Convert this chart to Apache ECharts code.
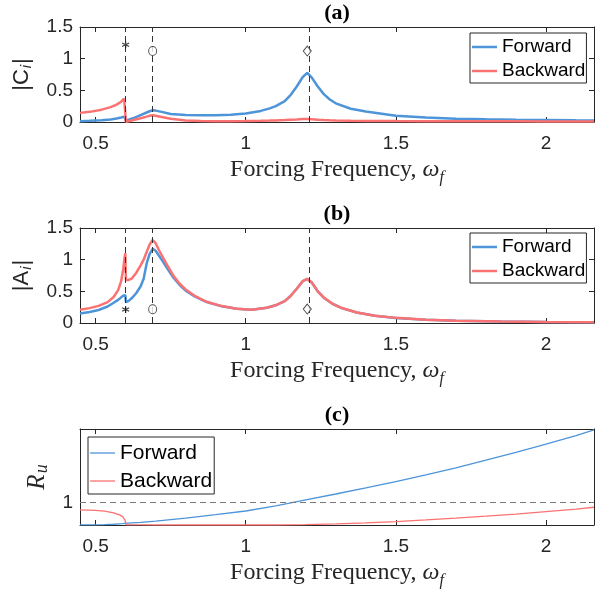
<!DOCTYPE html>
<html><head><meta charset="utf-8">
<script src="https://cdn.jsdelivr.net/npm/echarts@6.0.0/dist/echarts.min.js"></script>
<style>html,body{margin:0;padding:0;background:#fff}#c{width:595px;height:598px}</style>
</head><body><div id="c"></div><script>
// ---------- data ----------
const freqA = [0.448,0.48,0.52,0.55,0.57,0.585,0.595,0.599,0.601,0.61,0.63,0.65,0.67,0.68,0.69,0.70,0.72,0.75,0.8,0.85,0.9,0.95,1.0,1.05,1.08,1.1,1.13,1.15,1.17,1.19,1.205,1.22,1.24,1.26,1.28,1.3,1.35,1.4,1.5,1.6,1.7,1.8,1.9,2.0,2.1,2.16];
const cForward = [0.012,0.018,0.028,0.04,0.055,0.07,0.085,0.093,0.02,0.035,0.07,0.11,0.15,0.17,0.185,0.18,0.16,0.125,0.11,0.105,0.105,0.113,0.135,0.175,0.215,0.25,0.33,0.43,0.56,0.71,0.775,0.7,0.56,0.44,0.355,0.295,0.21,0.165,0.1,0.07,0.053,0.043,0.036,0.031,0.027,0.025];
const cBackward = [0.144,0.16,0.195,0.235,0.275,0.32,0.37,0.35,0.004,0.012,0.035,0.06,0.085,0.098,0.108,0.1,0.08,0.05,0.025,0.015,0.012,0.012,0.014,0.018,0.022,0.025,0.03,0.035,0.04,0.046,0.048,0.045,0.037,0.031,0.027,0.024,0.02,0.017,0.014,0.012,0.011,0.01,0.01,0.009,0.009,0.009];

const freqB = [0.448,0.48,0.51,0.54,0.56,0.575,0.585,0.592,0.597,0.599,0.601,0.61,0.62,0.635,0.65,0.66,0.67,0.68,0.69,0.70,0.71,0.72,0.74,0.76,0.78,0.8,0.83,0.87,0.92,0.97,1.02,1.07,1.1,1.13,1.15,1.17,1.19,1.205,1.22,1.24,1.26,1.29,1.32,1.37,1.43,1.5,1.6,1.7,1.85,2.0,2.16];
const aForward = [0.15,0.175,0.205,0.26,0.32,0.365,0.405,0.43,0.455,0.44,0.33,0.35,0.39,0.47,0.58,0.7,0.94,1.09,1.17,1.14,1.07,1.0,0.85,0.71,0.6,0.51,0.42,0.33,0.265,0.225,0.21,0.24,0.28,0.345,0.43,0.54,0.66,0.695,0.64,0.5,0.4,0.3,0.235,0.165,0.115,0.08,0.05,0.035,0.022,0.015,0.01];
const aBackward = [0.21,0.235,0.27,0.33,0.41,0.52,0.66,0.85,1.05,1.1,0.68,0.68,0.7,0.79,0.91,1.0,1.12,1.24,1.31,1.26,1.16,1.07,0.9,0.74,0.62,0.53,0.43,0.335,0.267,0.226,0.211,0.241,0.281,0.346,0.431,0.541,0.661,0.696,0.641,0.501,0.401,0.301,0.236,0.166,0.116,0.081,0.051,0.036,0.023,0.016,0.011];

const freqC = [0.448,0.5,0.53,0.56,0.58,0.59,0.595,0.598,0.6,0.601,0.62,0.65,0.7,0.8,0.9,1.0,1.1,1.2,1.3,1.4,1.5,1.6,1.7,1.8,1.9,2.0,2.1,2.16];
const rForward = [0.851,0.851,0.852,0.855,0.858,0.859,0.86,0.861,0.861,0.861,0.864,0.868,0.876,0.896,0.919,0.944,0.979,1.018,1.058,1.099,1.141,1.186,1.234,1.285,1.338,1.393,1.45,1.488];
const rBackward = [0.951,0.948,0.943,0.932,0.918,0.906,0.895,0.882,0.865,0.851,0.851,0.851,0.85,0.85,0.85,0.85,0.85,0.852,0.857,0.864,0.873,0.884,0.896,0.909,0.923,0.94,0.957,0.969];

const resonanceFreqs = [0.6, 0.69, 1.205];
const markerKinds = ['*', 'o', 'diamond'];
const markerYA = [1.22, 1.12, 1.12];
const markerYB = [0.213, 0.218, 0.22];
const xTicks = [0.5, 1, 1.5, 2];
const yTicksC = [1];
const panelTitles = ['(a)', '(b)', '(c)'];
const seriesNames = ['Forward', 'Backward'];

// ---------- styling ----------
const SANS = "'Liberation Sans', Arial, Helvetica, sans-serif";
const SERIF = "'Liberation Serif', 'Times New Roman', serif";
const AX = '#262626';
const BLUE = '#4e94d8';
const RED = '#fb7272';
const X_MIN = 0.448, X_MAX = 2.16;

const zip = (xs, ys) => xs.map((x, i) => [x, ys[i]]);

const grids = [
  {left: 80, right: 1, top: 25, height: 97},
  {left: 80, right: 1, top: 228, height: 95},
  {left: 80, right: 1, top: 429, height: 96}
];

const xName = '{t|Forcing Frequency, }{w|ω}{f|f}';
const xNameStyle = {
  color: AX,
  rich: {
    t: {fontFamily: SERIF, fontSize: 24, lineHeight: 26, color: AX},
    w: {fontFamily: SERIF, fontSize: 24, lineHeight: 26, fontStyle: 'italic', color: AX},
    f: {fontFamily: SERIF, fontSize: 16, lineHeight: 18, fontStyle: 'italic', color: AX, padding: [16, 0, 0, 0]}
  }
};

const xAxes = [];
const yAxes = [];
for (let i = 0; i < 3; i++) {
  xAxes.push({
    type: 'value', gridIndex: i, min: X_MIN, max: X_MAX, position: 'bottom',
    axisLine: {show: true, onZero: false, lineStyle: {color: AX, width: 1}},
    axisTick: {show: true, inside: true, length: 5, customValues: xTicks, lineStyle: {color: AX}},
    axisLabel: {show: true, customValues: xTicks, margin: 12, color: AX, fontFamily: SANS, fontSize: 19, formatter: v => String(v)},
    splitLine: {show: false},
    name: xName, nameLocation: 'middle', nameGap: 33, nameTextStyle: xNameStyle
  });
  xAxes.push({
    type: 'value', gridIndex: i, min: X_MIN, max: X_MAX, position: 'top',
    axisLine: {show: true, onZero: false, lineStyle: {color: AX, width: 1}},
    axisTick: {show: true, inside: true, length: 5, customValues: xTicks, lineStyle: {color: AX}},
    axisLabel: {show: false},
    splitLine: {show: false},
    name: panelTitles[i], nameLocation: 'middle', nameGap: 2,
    nameTextStyle: {fontFamily: SERIF, fontWeight: 'bold', fontSize: 22, lineHeight: 24, color: '#000'}
  });
}
const yNames = [
  '{t||C}{s|i}{t||}',
  '{t||A}{s|i}{t||}',
  '{r|R}{u|u}'
];
const yNameRich = {
  t: {fontFamily: SANS, fontSize: 22, lineHeight: 24, color: AX},
  s: {fontFamily: SANS, fontSize: 15, lineHeight: 16, fontStyle: 'italic', color: AX, padding: [9, 1, 0, 1]},
  r: {fontFamily: SERIF, fontSize: 25, lineHeight: 26, fontStyle: 'italic', color: AX},
  u: {fontFamily: SERIF, fontSize: 18, lineHeight: 18, fontStyle: 'italic', color: AX, padding: [10, 0, 0, 1]}
};
for (let i = 0; i < 3; i++) {
  const isC = i === 2;
  const common = isC ? {min: 0.85, max: 1.494} : {min: 0, max: 1.5, interval: 0.5};
  yAxes.push(Object.assign({
    type: 'value', gridIndex: i, position: 'left',
    axisLine: {show: true, onZero: false, lineStyle: {color: AX, width: 1}},
    axisTick: Object.assign({show: true, inside: true, length: 5, lineStyle: {color: AX}}, isC ? {customValues: yTicksC} : {}),
    axisLabel: Object.assign({show: true, margin: 7, color: AX, fontFamily: SANS, fontSize: 19, formatter: v => String(v)}, isC ? {customValues: yTicksC} : {}),
    splitLine: {show: false},
    name: yNames[i], nameLocation: 'middle', nameGap: isC ? 21 : 46,
    nameTextStyle: {rich: yNameRich}
  }, common));
  yAxes.push(Object.assign({
    type: 'value', gridIndex: i, position: 'right',
    axisLine: {show: true, onZero: false, lineStyle: {color: AX, width: 1}},
    axisTick: Object.assign({show: true, inside: true, length: 5, lineStyle: {color: AX}}, isC ? {customValues: yTicksC} : {}),
    axisLabel: {show: false},
    splitLine: {show: false}
  }, common));
}

const vLines = {
  silent: true, symbol: ['none', 'none'], label: {show: false},
  lineStyle: {color: '#333', type: [6, 4], width: 1},
  data: resonanceFreqs.map(x => ({xAxis: x}))
};

const asteriskPath = 'path://M5,0L5,10M0.67,2.5L9.33,7.5M0.67,7.5L9.33,2.5';
function markerData(ys) {
  return resonanceFreqs.map((x, k) => {
    const kind = markerKinds[k];
    if (kind === '*') return {value: [x, ys[k]], symbol: asteriskPath, symbolSize: 7,
      itemStyle: {color: 'rgba(0,0,0,0)', borderColor: '#111', borderWidth: 1.3}};
    if (kind === 'o') return {value: [x, ys[k]], symbol: 'circle', symbolSize: [8, 9],
      itemStyle: {color: '#fff', borderColor: '#222', borderWidth: 1}};
    return {value: [x, ys[k]], symbol: 'diamond', symbolSize: [8, 10],
      itemStyle: {color: '#fff', borderColor: '#222', borderWidth: 1}};
  });
}

function lineSeries(name, gi, xs, ys, color, width, extra) {
  return Object.assign({
    type: 'line', name: name, xAxisIndex: gi * 2, yAxisIndex: gi * 2,
    data: zip(xs, ys), showSymbol: false, symbol: 'none', smooth: false,
    lineStyle: {color: color, width: width}, itemStyle: {color: color},
    animation: false
  }, extra || {});
}

const series = [
  lineSeries(seriesNames[0], 0, freqA, cForward, BLUE, 2.5, {markLine: vLines, z: 2}),
  lineSeries(seriesNames[1], 0, freqA, cBackward, RED, 2.5, {z: 3}),
  {type: 'scatter', xAxisIndex: 0, yAxisIndex: 0, data: markerData(markerYA), z: 6, animation: false, silent: true},
  lineSeries(seriesNames[0], 1, freqB, aForward, BLUE, 2.5, {markLine: vLines, z: 2}),
  lineSeries(seriesNames[1], 1, freqB, aBackward, RED, 2.5, {z: 3}),
  {type: 'scatter', xAxisIndex: 2, yAxisIndex: 2, data: markerData(markerYB), z: 6, animation: false, silent: true},
  lineSeries(seriesNames[0], 2, freqC, rForward, BLUE, 1.3, {
    z: 2,
    markLine: {silent: true, symbol: ['none', 'none'], label: {show: false},
      lineStyle: {color: '#7a7a7a', type: [6, 4], width: 1}, data: [{yAxis: 1}]}
  }),
  lineSeries(seriesNames[1], 2, freqC, rBackward, RED, 1.3, {z: 3})
];

function legendAt(left, top, fs, lh, gap, lw, pad) {
  return {
    data: seriesNames.map(n => ({name: n, icon: 'rect'})),
    orient: 'vertical', left: left, top: top,
    itemWidth: 25, itemHeight: lw, itemGap: gap, padding: pad,
    backgroundColor: '#fff', borderColor: AX, borderWidth: 1, borderRadius: 0,
    textStyle: {fontFamily: SANS, fontSize: fs, lineHeight: lh, height: lh, color: '#000'},
    selectedMode: false
  };
}

const option = {
  backgroundColor: '#fff',
  animation: false,
  grid: grids,
  xAxis: xAxes,
  yAxis: yAxes,
  legend: [
    legendAt(470, 33, 19, 20, 4, 2.5, [4, 1, 2, 2]),
    legendAt(470, 233, 19, 20, 4, 2.5, [4, 1, 2, 2]),
    legendAt(88, 437, 21, 22, 6, 1.3, [5, 2, 2, 2])
  ],
  series: series
};

const chart = echarts.init(document.getElementById('c'), null, {renderer: 'canvas'});
chart.setOption(option);
</script></body></html>
